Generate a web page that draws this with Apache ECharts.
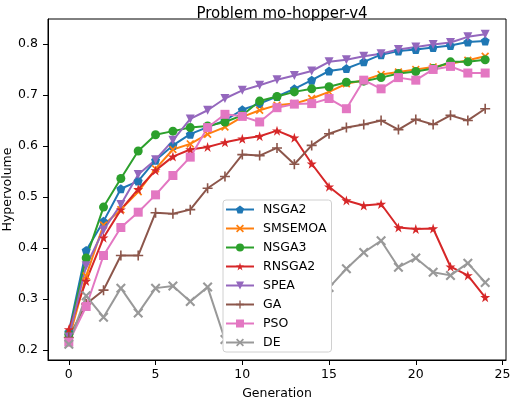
<!DOCTYPE html>
<html>
<head>
<meta charset="utf-8">
<script src="https://cdn.jsdelivr.net/npm/echarts@6/dist/echarts.min.js"></script>
<style>
  html, body { margin: 0; padding: 0; background: #fff; }
  #chart { width: 510px; height: 398px; }
</style>
</head>
<body>
<div id="chart"></div>
<script>
// 数据
const generations = [0, 1, 2, 3, 4, 5, 6, 7, 8, 9, 10, 11, 12, 13, 14, 15, 16, 17, 18, 19, 20, 21, 22, 23, 24]
const nsga2 = [0.235, 0.395, 0.452, 0.516, 0.531, 0.572, 0.601, 0.623, 0.637, 0.650, 0.671, 0.683, 0.697, 0.712, 0.729, 0.747, 0.752, 0.765, 0.779, 0.786, 0.789, 0.793, 0.797, 0.804, 0.806]
const smsemoa = [0.220, 0.345, 0.445, 0.475, 0.510, 0.555, 0.593, 0.604, 0.623, 0.637, 0.657, 0.670, 0.680, 0.683, 0.693, 0.706, 0.722, 0.729, 0.740, 0.745, 0.750, 0.755, 0.761, 0.768, 0.776]
const nsga3 = [0.230, 0.380, 0.480, 0.536, 0.590, 0.622, 0.629, 0.636, 0.639, 0.647, 0.660, 0.688, 0.697, 0.706, 0.712, 0.716, 0.725, 0.727, 0.734, 0.742, 0.746, 0.752, 0.765, 0.765, 0.769]
const rnsga2 = [0.240, 0.335, 0.420, 0.475, 0.515, 0.552, 0.579, 0.593, 0.598, 0.607, 0.614, 0.619, 0.630, 0.616, 0.565, 0.520, 0.493, 0.483, 0.486, 0.440, 0.437, 0.438, 0.363, 0.346, 0.303]
const spea = [0.225, 0.365, 0.435, 0.485, 0.544, 0.573, 0.611, 0.653, 0.670, 0.693, 0.709, 0.719, 0.730, 0.738, 0.747, 0.765, 0.769, 0.776, 0.781, 0.789, 0.794, 0.799, 0.803, 0.814, 0.819]
const ga = [0.224, 0.290, 0.317, 0.385, 0.385, 0.469, 0.467, 0.475, 0.517, 0.540, 0.583, 0.581, 0.596, 0.564, 0.601, 0.624, 0.636, 0.642, 0.650, 0.632, 0.652, 0.642, 0.660, 0.650, 0.673]
const pso = [0.215, 0.285, 0.385, 0.440, 0.470, 0.504, 0.542, 0.578, 0.636, 0.662, 0.658, 0.647, 0.675, 0.682, 0.683, 0.693, 0.673, 0.729, 0.712, 0.734, 0.729, 0.750, 0.756, 0.743, 0.743]
const de = [0.211, 0.306, 0.264, 0.321, 0.272, 0.321, 0.325, 0.295, 0.323, 0.220, 0.250, 0.270, 0.290, 0.300, 0.310, 0.322, 0.359, 0.391, 0.414, 0.362, 0.380, 0.352, 0.346, 0.370, 0.332]

const xTicks = [0, 5, 10, 15, 20, 25]
const yTicks = [0.2, 0.3, 0.4, 0.5, 0.6, 0.7, 0.8]

// 标记形状
const PENTAGON = 'path://M5,0 L9.755,3.455 L7.939,9.045 L2.061,9.045 L0.245,3.455 Z'
const XMARK = 'path://M0,1.5 L1.5,0 L5,3.5 L8.5,0 L10,1.5 L6.5,5 L10,8.5 L8.5,10 L5,6.5 L1.5,10 L0,8.5 L3.5,5 Z'
const PLUS = 'path://M4.2,0 L5.8,0 L5.8,4.2 L10,4.2 L10,5.8 L5.8,5.8 L5.8,10 L4.2,10 L4.2,5.8 L0,5.8 L0,4.2 L4.2,4.2 Z'
const STAR = 'path://M5,0 L6.123,3.455 L9.755,3.455 L6.817,5.59 L7.939,9.045 L5,6.91 L2.061,9.045 L3.183,5.59 L0.245,3.455 L3.877,3.455 Z'
const TRIDOWN = 'path://M0,0 L10,0 L5,10 Z'

const FONT = 'DejaVu Sans'

const seriesDefs = [
  { name: 'NSGA2', data: nsga2, color: '#1f77b4', symbol: PENTAGON, size: 9 },
  { name: 'SMSEMOA', data: smsemoa, color: '#ff7f0e', symbol: XMARK, size: 8 },
  { name: 'NSGA3', data: nsga3, color: '#2ca02c', symbol: 'circle', size: 9 },
  { name: 'RNSGA2', data: rnsga2, color: '#d62728', symbol: STAR, size: 10 },
  { name: 'SPEA', data: spea, color: '#9467bd', symbol: TRIDOWN, size: 9 },
  { name: 'GA', data: ga, color: '#8c564b', symbol: PLUS, size: 10 },
  { name: 'PSO', data: pso, color: '#e377c2', symbol: 'rect', size: 9 },
  { name: 'DE', data: de, color: '#999999', symbol: XMARK, size: 10 }
]

const mChart = echarts.init(document.getElementById('chart'))

const options = {
  animation: false,
  title: {
    text: 'Problem mo-hopper-v4',
    left: 277,
    top: 2,
    textAlign: 'center',
    textStyle: { fontFamily: FONT, fontSize: 15, fontWeight: 'normal', color: '#000' }
  },
  legend: {
    orient: 'vertical',
    left: 223,
    top: 200,
    z: 10,
    itemWidth: 28,
    itemHeight: 10,
    itemGap: 6,
    padding: [3, 5, 3, 2],
    borderColor: '#d0d0d0',
    borderWidth: 1,
    borderRadius: 3,
    backgroundColor: '#ffffff',
    textStyle: { fontFamily: FONT, fontSize: 12.5, lineHeight: 13, color: '#000', padding: [0, 0, 0, 4] },
    data: seriesDefs.map((s) => s.name)
  },
  grid: {
    left: 48,
    right: 4,
    top: 19,
    bottom: 38,
    outerBoundsMode: 'none',
    show: true,
    borderColor: '#000',
    borderWidth: 1
  },
  xAxis: {
    type: 'value',
    min: -1.2,
    max: 25.2,
    name: 'Generation',
    nameLocation: 'middle',
    nameGap: 27,
    nameMoveOverlap: false,
    nameTextStyle: { fontFamily: FONT, fontSize: 12.5, color: '#000' },
    axisLine: { show: true, onZero: false, lineStyle: { color: '#000' } },
    axisTick: { show: true, length: 5, customValues: xTicks, lineStyle: { color: '#000' } },
    axisLabel: { customValues: xTicks, margin: 8, fontFamily: FONT, fontSize: 12.5, color: '#000' },
    splitLine: { show: false }
  },
  yAxis: {
    type: 'value',
    min: 0.18,
    max: 0.849,
    name: 'Hypervolume',
    nameLocation: 'middle',
    nameRotate: 90,
    nameGap: 34,
    nameMoveOverlap: false,
    nameTextStyle: { fontFamily: FONT, fontSize: 12.5, color: '#000' },
    axisLine: { show: true, onZero: false, lineStyle: { color: '#000' } },
    axisTick: { show: true, length: 5, customValues: yTicks, lineStyle: { color: '#000' } },
    axisLabel: {
      customValues: yTicks,
      margin: 10,
      fontFamily: FONT,
      fontSize: 12.5,
      color: '#000',
      formatter: (v) => v.toFixed(1)
    },
    splitLine: { show: false }
  },
  series: seriesDefs.map((s) => ({
    type: 'line',
    name: s.name,
    color: s.color,
    symbol: s.symbol,
    symbolSize: s.size,
    showAllSymbol: true,
    lineStyle: { width: 2, color: s.color },
    itemStyle: { color: s.color },
    emphasis: { disabled: true },
    data: generations.map((g, i) => [g, s.data[i]])
  }))
}

mChart.setOption(options)
</script>
</body>
</html>
